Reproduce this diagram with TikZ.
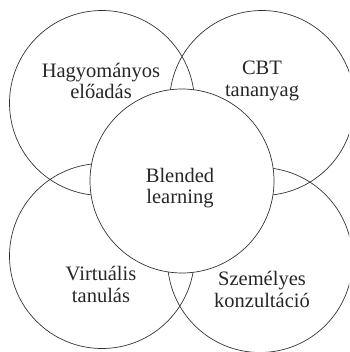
\documentclass[tikz,border=0pt]{standalone}
\usepackage{fontspec}
\setmainfont{Liberation Serif}
\begin{document}
\begin{tikzpicture}[x=1pt,y=-1pt,
  ring/.style={circle, draw=black!80, line width=0.7pt, minimum size=185pt, inner sep=0pt},
  hub/.style={circle, draw=black!80, fill=white, line width=0.7pt, minimum size=184pt, inner sep=0pt},
  lbl/.style={align=center, font=\fontsize{20.5}{21.5}\selectfont, text=black!85, inner sep=0pt}]
\useasboundingbox (0,0) rectangle (349,352);
\clip (0,0) rectangle (349,352);
\node[ring] (trad) at (102,103) {};
\node[ring] (cbt)  at (262,103) {};
\node[ring] (virt) at (102,256) {};
\node[ring] (pers) at (260,260) {};
\node[hub]  (blend) at (182,181) {};
\node[lbl] (tradl)  at (101,81)  {Hagyományos\\előadás};
\node[lbl] (cbtl)   at (262,81)  {CBT\\tananyag};
\node[lbl] (blendl) at (180,188) {Blended\\learning};
\node[lbl] (virtl)  at (101,284.5) {Virtuális\\tanulás};
\node[lbl] (persl)  at (262,289.5) {Személyes\\konzultáció};
\end{tikzpicture}
\end{document}
